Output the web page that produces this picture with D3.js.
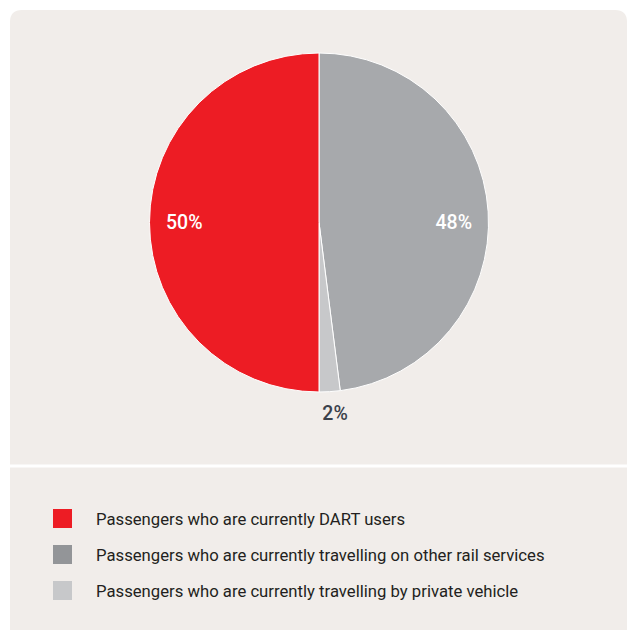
<!DOCTYPE html>
<html>
<head>
<meta charset="utf-8">
<script src="https://cdn.jsdelivr.net/npm/d3@7"></script>
<style>
  body { margin: 0; background: #ffffff; }
  svg text { font-family: Roboto, "DejaVu Sans", sans-serif; }
</style>
</head>
<body>
<div id="chart"></div>
<script>
let categories = ["Passengers who are currently travelling on other rail services",
                  "Passengers who are currently travelling by private vehicle",
                  "Passengers who are currently DART users"];
let values = [48, 2, 50];
let valueLabels = ["48%", "2%", "50%"];
let sliceColors = ["#a7a9ac", "#c7c8ca", "#ed1c24"];

// legend order differs from slice order
let legendItems = ["Passengers who are currently DART users",
                   "Passengers who are currently travelling on other rail services",
                   "Passengers who are currently travelling by private vehicle"];
let legendColors = ["#ed1c24", "#939598", "#c7c8ca"];

let width = 629, height = 630;
let cx = 319, cy = 222.5, radius = 169.5;

let svg = d3.select("#chart").append("svg").attr("width", width).attr("height", height);

// panel
svg.append("path")
    .attr("d", "M10,630 L10,22 Q10,10 22,10 L615,10 Q627,10 627,22 L627,630 Z")
    .attr("fill", "#f1edea");
svg.append("line").attr("x1", 10).attr("x2", 627).attr("y1", 466).attr("y2", 466)
    .attr("stroke", "#ffffff").attr("stroke-width", 3);

let pie = d3.pie().sort(null).value(d => d)(values);
let arc = d3.arc().innerRadius(0).outerRadius(radius);

let pieGroup = svg.append("g").attr("transform", `translate(${cx}, ${cy})`);
pieGroup.selectAll("path").data(pie).enter().append("path")
    .attr("d", arc)
    .attr("fill", (d, i) => sliceColors[i])
    .attr("stroke", "#ffffff")
    .attr("stroke-width", 1);

// labels: big slices sit on the horizontal midline, small one outside
let outerArc = d3.arc().innerRadius(radius + 22).outerRadius(radius + 22);
pieGroup.selectAll(".label").data(pie).enter().append("text")
    .attr("transform", (d, i) => {
        if (values[i] < 5) {
            let c = outerArc.centroid(d);
            return `translate(${c[0] + 4}, ${c[1]})`;
        }
        let side = arc.centroid(d)[0] > 0 ? 1 : -1;
        return `translate(${side * radius * 0.795}, 0)`;
    })
    .attr("text-anchor", "middle")
    .attr("dominant-baseline", "central")
    .attr("font-size", 19.5)
    .attr("font-weight", 500)
    .attr("fill", (d, i) => values[i] < 5 ? "#3b414b" : "#ffffff")
    .text((d, i) => valueLabels[i]);

// legend
let legend = svg.append("g").attr("transform", "translate(53, 509)");
legendItems.forEach((t, i) => {
    let row = legend.append("g").attr("transform", `translate(0, ${i * 36})`);
    row.append("rect").attr("width", 19).attr("height", 19).attr("fill", legendColors[i]);
    row.append("text").attr("x", 43).attr("y", 16).attr("font-size", 16.7).attr("fill", "#231f20").text(t);
});
</script>
</body>
</html>
